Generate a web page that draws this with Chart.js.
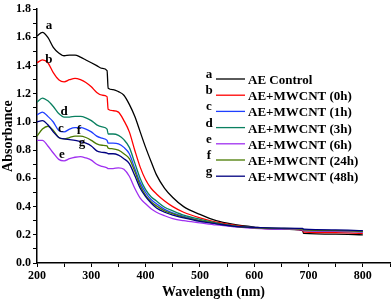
<!DOCTYPE html>
<html>
<head>
<meta charset="utf-8">
<script src="https://cdn.jsdelivr.net/npm/chart.js@4"></script>
<style>
  html, body { margin: 0; padding: 0; background: #fff; }
  #wrap { width: 392px; height: 301px; }
</style>
</head>
<body>
<div id="wrap"><canvas id="uvChart" width="392" height="301"></canvas></div>
<script>
// 波长 (nm)
const wavelengths = [200, 210, 220, 230, 240, 250, 260, 270, 280, 290, 300, 310, 320, 329, 331, 340, 350, 360, 370, 380, 390, 400, 410, 420, 435, 450, 470, 500, 530, 560, 600, 650, 689, 691, 750, 800];

// 各样品吸光度
const aeControl = [1.61, 1.635, 1.60, 1.53, 1.49, 1.47, 1.475, 1.475, 1.46, 1.44, 1.42, 1.40, 1.38, 1.365, 1.24, 1.23, 1.215, 1.19, 1.125, 1.04, 0.93, 0.82, 0.72, 0.625, 0.53, 0.465, 0.40, 0.345, 0.30, 0.275, 0.255, 0.24, 0.23, 0.21, 0.205, 0.20];
const mw0h = [1.42, 1.44, 1.42, 1.35, 1.30, 1.285, 1.30, 1.31, 1.30, 1.28, 1.25, 1.21, 1.19, 1.18, 1.09, 1.08, 1.07, 1.01, 0.93, 0.80, 0.68, 0.59, 0.53, 0.49, 0.44, 0.40, 0.36, 0.32, 0.29, 0.27, 0.25, 0.24, 0.235, 0.22, 0.215, 0.21];
const mw1h = [1.05, 1.07, 1.04, 1.00, 0.94, 0.93, 0.95, 0.96, 0.96, 0.95, 0.93, 0.90, 0.885, 0.87, 0.85, 0.85, 0.845, 0.82, 0.775, 0.67, 0.57, 0.50, 0.45, 0.42, 0.38, 0.355, 0.33, 0.30, 0.28, 0.262, 0.25, 0.243, 0.24, 0.235, 0.23, 0.225];
const mw3h = [1.14, 1.17, 1.15, 1.11, 1.06, 1.035, 1.035, 1.04, 1.04, 1.03, 1.01, 0.98, 0.965, 0.95, 0.915, 0.915, 0.905, 0.875, 0.82, 0.71, 0.60, 0.52, 0.47, 0.44, 0.395, 0.37, 0.34, 0.31, 0.285, 0.265, 0.25, 0.243, 0.24, 0.23, 0.225, 0.22];
const mw6h = [0.87, 0.87, 0.83, 0.78, 0.735, 0.725, 0.74, 0.75, 0.755, 0.745, 0.73, 0.70, 0.685, 0.675, 0.67, 0.67, 0.675, 0.665, 0.615, 0.53, 0.46, 0.42, 0.385, 0.36, 0.335, 0.315, 0.30, 0.285, 0.27, 0.258, 0.245, 0.24, 0.235, 0.23, 0.225, 0.22];
const mw24h = [0.90, 0.95, 0.97, 0.94, 0.89, 0.88, 0.89, 0.90, 0.90, 0.89, 0.87, 0.845, 0.835, 0.83, 0.815, 0.81, 0.80, 0.775, 0.74, 0.65, 0.55, 0.48, 0.435, 0.405, 0.37, 0.35, 0.325, 0.30, 0.28, 0.262, 0.25, 0.245, 0.24, 0.235, 0.23, 0.225];
const mw48h = [1.00, 1.01, 0.98, 0.93, 0.89, 0.88, 0.875, 0.87, 0.86, 0.85, 0.83, 0.795, 0.785, 0.78, 0.775, 0.775, 0.765, 0.74, 0.705, 0.62, 0.53, 0.47, 0.425, 0.39, 0.36, 0.34, 0.32, 0.295, 0.278, 0.262, 0.252, 0.248, 0.245, 0.24, 0.235, 0.23];

const seriesNames = ['AE Control', 'AE+MWCNT (0h)', 'AE+MWCNT (1h)', 'AE+MWCNT (3h)', 'AE+MWCNT (6h)', 'AE+MWCNT (24h)', 'AE+MWCNT (48h)'];
const seriesLetters = ['a', 'b', 'c', 'd', 'e', 'f', 'g'];
const seriesColors = ['#000000', '#ff0000', '#1f3fff', '#0a8060', '#a030f0', '#4a7a00', '#000080'];
const seriesValues = [aeControl, mw0h, mw1h, mw3h, mw6h, mw24h, mw48h];

// 曲线旁字母标注 [波长, 吸光度]
const curveLetterPos = [[222, 1.69], [222, 1.45], [244, 0.96], [250, 1.08], [246, 0.77], [277, 0.94], [283, 0.855]];

const serifBold = 'bold 13px "Liberation Serif", "DejaVu Serif", serif';

// 图例与曲线字母
const annotatePlugin = {
    id: 'annotate',
    afterDatasetsDraw(chart) {
        const ctx = chart.ctx;
        const xs = chart.scales.x;
        const ys = chart.scales.y;
        ctx.save();
        ctx.font = serifBold;
        ctx.fillStyle = '#000';
        ctx.textBaseline = 'alphabetic';
        ctx.textAlign = 'center';
        curveLetterPos.forEach((p, i) => {
            ctx.fillText(seriesLetters[i], xs.getPixelForValue(p[0]), ys.getPixelForValue(p[1]) + 4);
        });

        // 图例
        const top = 79;
        const step = 16.2;
        seriesNames.forEach((name, i) => {
            const y = top + i * step;
            ctx.textAlign = 'center';
            ctx.fillText(seriesLetters[i], 209, y - 1);
            ctx.strokeStyle = seriesColors[i];
            ctx.lineWidth = 1.3;
            ctx.beginPath();
            ctx.moveTo(216, y);
            ctx.lineTo(245, y);
            ctx.stroke();
            ctx.textAlign = 'left';
            ctx.fillText(name, 248, y + 5);
        });
        ctx.restore();
    }
};

new Chart(document.getElementById('uvChart'), {
    type: 'line',
    data: {
        datasets: seriesValues.map((vals, i) => ({
            label: seriesNames[i],
            data: wavelengths.map((w, j) => ({ x: w, y: vals[j] })),
            borderColor: seriesColors[i],
            borderWidth: 1.3,
            pointRadius: 0,
            fill: false,
            cubicInterpolationMode: 'monotone'
        })).reverse()
    },
    options: {
        responsive: false,
        animation: false,
        layout: { padding: { top: 6, right: 2, left: 0, bottom: 0 } },
        plugins: {
            legend: { display: false },
            tooltip: { enabled: false }
        },
        scales: {
            x: {
                type: 'linear',
                min: 200,
                max: 850,
                afterFit(scale) { scale.height = 38; },
                border: { color: '#000', width: 1.5 },
                grid: { drawOnChartArea: false, tickLength: 4, color: '#000', tickColor: '#000' },
                ticks: {
                    stepSize: 50,
                    maxRotation: 0,
                    autoSkip: false,
                    color: '#000',
                    padding: 2,
                    font: { family: '"Liberation Serif", serif', weight: 'bold', size: 12 },
                    callback: (v) => (v % 100 === 0 && v <= 800) ? String(v) : ''
                },
                title: {
                    display: true,
                    text: 'Wavelength (nm)',
                    color: '#000',
                    padding: { top: 0, bottom: 0 },
                    font: { family: '"Liberation Serif", serif', weight: 'bold', size: 14 }
                }
            },
            y: {
                min: 0,
                max: 1.8,
                afterFit(scale) { scale.width = 37; },
                border: { color: '#000', width: 1.5 },
                grid: { drawOnChartArea: false, tickLength: 4, color: '#000', tickColor: '#000' },
                ticks: {
                    stepSize: 0.1,
                    autoSkip: false,
                    color: '#000',
                    padding: 2,
                    font: { family: '"Liberation Serif", serif', weight: 'bold', size: 12 },
                    callback: (v) => Math.round(v * 10) % 2 === 0 ? v.toFixed(1) : ''
                },
                title: {
                    display: true,
                    text: 'Absorbance',
                    color: '#000',
                    padding: { top: 0, bottom: 0 },
                    font: { family: '"Liberation Serif", serif', weight: 'bold', size: 14 }
                }
            }
        }
    },
    plugins: [annotatePlugin]
});
</script>
</body>
</html>
